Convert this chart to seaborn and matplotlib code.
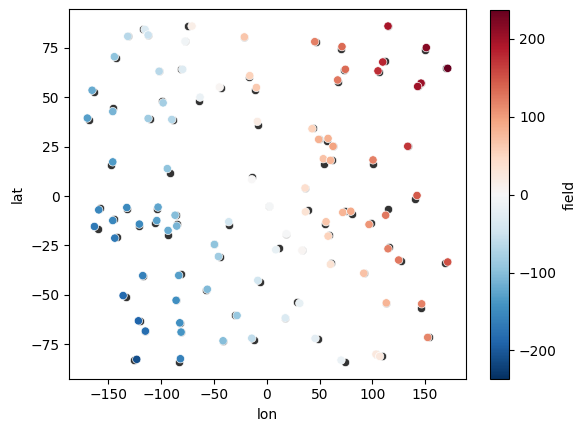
import numpy as np
import pandas as pd
import seaborn as sns
import matplotlib.pyplot as plt
from matplotlib.colors import Normalize
from matplotlib.cm import ScalarMappable

# colored points
lon = [-165.5, -170.0, -145.9, -145.9, -144.4, -131.7, -115.3, -112.4, -102.0, -98.2,
       -112.4, -90.0, -94.2, -79.6, -77.4, -70.8, -63.2, -44.9, -21.2, -16.1,
       -9.8, -8.9, -14.2, 45.5, 71.3, 114.9, 151.2, 171.5, 109.9, 105.4,
       74.5, 67.2, 146.2, 143.0, 42.9, 49.2, 58.1, 62.8, 53.6, 60.3,
       100.7, 133.6, 36.3, 142.4, -159.2, -163.3, -145.9, -132.6, -144.0, -120.7,
       -103.0, -104.2, -93.5, -86.9, -85.3, -49.6, -45.8, -36.0, -117.5, -83.4,
       -136.1, -85.9, -56.3, -8.5, -28.1, -121.6, -115.0, -82.4, -81.2, -41.4,
       -14.2, -123.2, -81.8, 2.8, 36.6, 56.2, 58.1, 72.0, 79.6, 96.9,
       112.7, 114.9, 125.0, 171.5, 18.6, 8.5, 33.4, 60.3, 91.9, 113.3,
       146.8, 31.3, 17.6, 45.8, 152.5, 70.4, 103.5, 107.0]
lat = [53.6, 39.5, 42.8, 17.3, 70.6, 80.9, 84.4, 81.6, 63.2, 47.2,
       39.3, 38.8, 13.9, 64.2, 78.4, 86.1, 50.1, 55.2, 80.6, 61.0,
       55.0, 37.8, 8.3, 78.2, 75.7, 86.1, 75.2, 64.7, 67.9, 63.4,
       64.2, 58.8, 57.2, 55.5, 34.1, 28.7, 29.2, 25.2, 18.9, 18.1,
       18.3, 25.2, 4.1, 0.3, -7.0, -15.4, -12.4, -5.8, -21.3, -14.2,
       -5.6, -12.4, -17.4, -9.7, -15.2, -24.5, -30.6, -13.0, -40.3, -40.2,
       -50.4, -52.8, -47.2, -42.7, -60.5, -63.2, -68.4, -64.2, -68.9, -73.3,
       -72.0, -82.7, -82.4, -5.2, -8.0, -13.0, -20.3, -8.3, -7.7, -14.4,
       -9.7, -26.7, -32.4, -33.4, -19.1, -27.2, -27.5, -34.6, -39.1, -54.1,
       -54.6, -54.3, -61.7, -72.1, -71.6, -83.1, -80.1, -81.2]
field = [-120, -130, -110, -135, -95, -65, -35, -50, -65, -80,
         -85, -70, -95, -30, -8, 15, -15, 5, 65, 55,
         62, 20, 0, 120, 135, 195, 215, 237, 180, 175,
         135, 125, 205, 200, 55, 85, 85, 95, 70, 80,
         120, 170, 40, 145, -155, -170, -155, -150, -170, -150,
         -125, -130, -120, -100, -110, -95, -85, -45, -160, -130,
         -185, -145, -105, -45, -90, -190, -180, -145, -140, -100,
         -60, -210, -160, -5, 35, 65, 55, 80, 90, 105,
         125, 120, 125, 150, -2, -20, 5, 35, 70, 80,
         120, -20, -35, -25, 115, -15, 25, 25]

# dark points behind them
shadow_lon = [-163.6, -168.6, -145.9, -147.2, -142.5, -131.7, -117.5, -112.4, -102.0, -99.2,
              -110.5, -89.0, -91.9, -81.1, -77.4, -74.6, -64.1, -43.0, -21.2, -17.1,
              -10.8, -8.0, -13.6, 46.7, 70.7, 114.9, 150.0, 169.6, 111.8, 106.7,
              73.5, 67.9, 146.2, 143.0, 43.9, 49.2, 57.4, 62.8, 54.6, 61.9,
              100.7, 133.6, 36.3, 140.5, -158.3, -160.1, -145.0, -132.6, -141.8, -120.7,
              -104.0, -106.1, -93.2, -85.9, -85.3, -49.6, -44.5, -35.4, -117.5, -80.8,
              -133.3, -85.9, -57.5, -6.3, -29.7, -119.8, -115.0, -82.4, -81.2, -41.4,
              -11.7, -126.0, -82.8, 1.9, 38.8, 55.6, 58.7, 74.5, 80.5, 98.8,
              114.9, 115.5, 126.9, 169.3, 18.6, 11.4, 33.4, 61.2, 91.9, 113.3,
              146.2, 29.1, 17.6, 48.3, 154.1, 73.9, 103.5, 109.0]
shadow_lat = [52.6, 38.5, 44.8, 15.6, 70.1, 80.9, 84.4, 81.6, 63.2, 47.9,
              39.1, 38.5, 11.7, 64.4, 78.4, 86.1, 48.4, 54.6, 80.6, 60.2,
              53.9, 35.8, 9.5, 77.8, 74.6, 86.1, 74.0, 64.7, 68.6, 63.0,
              63.6, 57.8, 57.2, 55.5, 34.6, 28.7, 27.7, 25.2, 16.3, 18.4,
              16.3, 25.2, 4.1, -1.3, -6.2, -16.6, -11.4, -6.7, -20.6, -15.3,
              -6.8, -13.4, -19.8, -9.4, -14.1, -24.5, -30.7, -14.9, -40.3, -39.7,
              -51.0, -52.8, -47.5, -43.6, -60.2, -63.5, -68.4, -64.2, -68.9, -73.3,
              -72.8, -83.0, -84.0, -4.8, -7.0, -14.3, -19.5, -7.6, -9.0, -13.8,
              -6.8, -25.9, -33.0, -33.7, -19.1, -26.5, -27.5, -34.0, -39.1, -54.1,
              -56.7, -53.8, -61.7, -72.6, -71.5, -83.8, -80.1, -81.0]

df = pd.DataFrame({"lon": lon, "lat": lat, "field": field})
shadow = pd.DataFrame({"lon": shadow_lon, "lat": shadow_lat})

vlim = np.abs(df["field"]).max()

fig = plt.figure(figsize=(5.86, 4.32), dpi=100)
ax = fig.add_axes([0.1183, 0.1234, 0.6765, 0.8551])
cax = fig.add_axes([0.8367, 0.1220, 0.0324, 0.8553])

sns.scatterplot(data=shadow, x="lon", y="lat", color="#333333", edgecolor="white", ax=ax)
sns.scatterplot(data=df, x="lon", y="lat", hue="field", palette="RdBu_r",
                hue_norm=(-vlim, vlim), edgecolor="white", legend=False, ax=ax)

sm = ScalarMappable(norm=Normalize(-vlim, vlim), cmap="RdBu_r")
cb = fig.colorbar(sm, cax=cax)
cb.set_label("field")

fig.savefig("out.png", dpi=100)
